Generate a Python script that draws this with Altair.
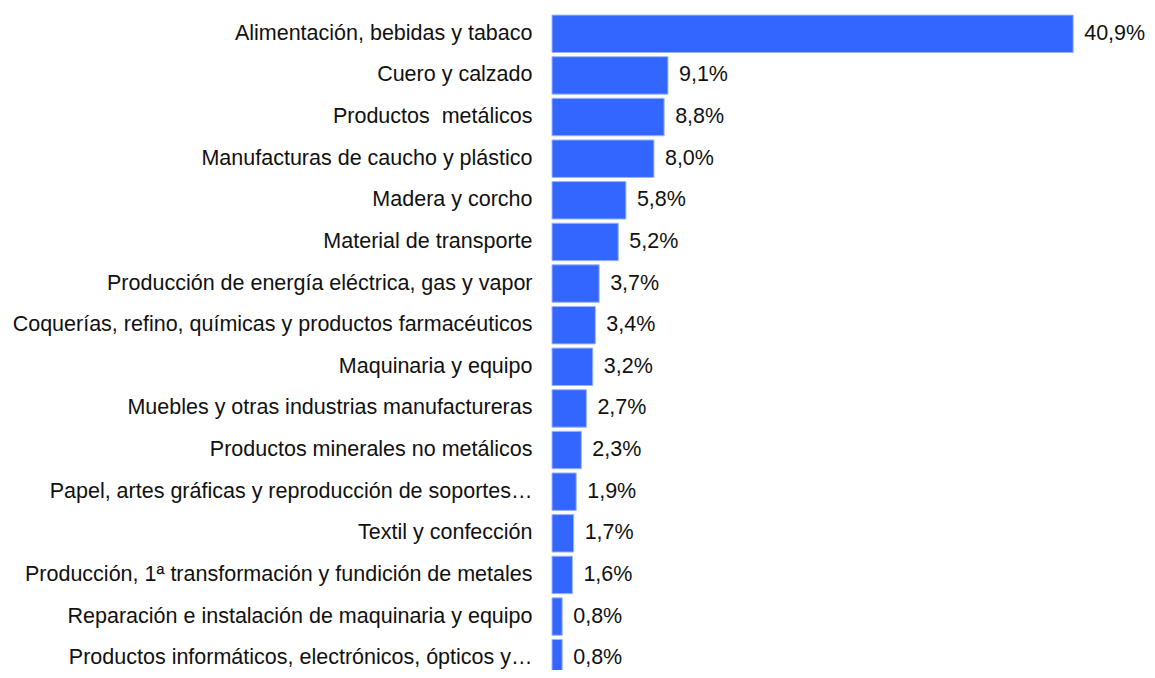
import altair as alt
import pandas as pd

categories = [
    "Alimentación, bebidas y tabaco",
    "Cuero y calzado",
    "Productos \u00a0metálicos",
    "Manufacturas de caucho y plástico",
    "Madera y corcho",
    "Material de transporte",
    "Producción de energía eléctrica, gas y vapor",
    "Coquerías, refino, químicas y productos farmacéuticos",
    "Maquinaria y equipo",
    "Muebles y otras industrias manufactureras",
    "Productos minerales no metálicos",
    "Papel, artes gráficas y reproducción de soportes…",
    "Textil y confección",
    "Producción, 1ª transformación y fundición de metales",
    "Reparación e instalación de maquinaria y equipo",
    "Productos informáticos, electrónicos, ópticos y…",
]
values = [40.9, 9.1, 8.8, 8.0, 5.8, 5.2, 3.7, 3.4, 3.2, 2.7, 2.3, 1.9, 1.7, 1.6, 0.8, 0.8]

df = pd.DataFrame({"cat": categories, "val": values})
df["label"] = [f"{v:.1f}".replace(".", ",") + "%" for v in values]

FONT = "Liberation Sans"
FS = 21.5

y = alt.Y(
    "cat:N",
    sort=categories,
    title=None,
    scale=alt.Scale(paddingInner=0.1, paddingOuter=0.05),
    axis=alt.Axis(
        domain=False,
        ticks=False,
        labelFont=FONT,
        labelFontSize=FS,
        labelColor="#111111",
        labelPadding=20,
        labelLimit=700,
    ),
)
x = alt.X("val:Q", title=None, axis=None, scale=alt.Scale(domain=[0, 46.3], nice=False))

bars = alt.Chart(df).mark_bar(color="#3366FF", stroke="#9db4ff", strokeWidth=1).encode(x=x, y=y)
text = alt.Chart(df).mark_text(
    align="left", baseline="middle", dx=11, font=FONT, fontSize=FS, color="#111111"
).encode(x=x, y=y, text="label:N")

chart = (
    (bars + text)
    .properties(
        width=590,
        height=666,
        background="white",
        autosize=alt.AutoSizeParams(type="none"),
        padding={"left": 544, "top": 5, "right": 5, "bottom": -9},
    )
    .configure_view(stroke="transparent", strokeWidth=0)
)

chart.save("out.html", embed_options={"renderer": "svg", "actions": False})
